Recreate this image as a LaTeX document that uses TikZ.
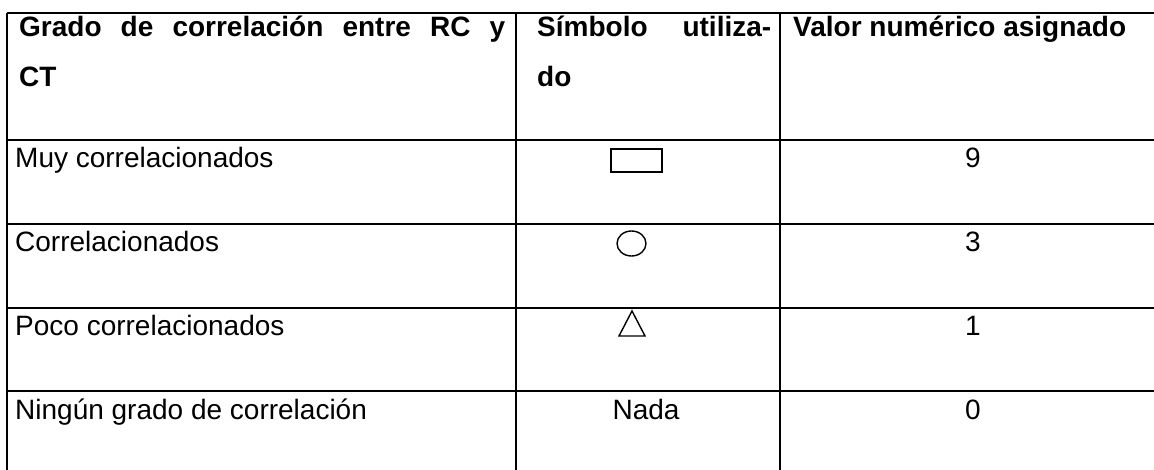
\documentclass[tikz,border=0pt]{standalone}
\usepackage{fontspec}
\setmainfont{Liberation Sans}
\usetikzlibrary{positioning}
\tikzset{
  hdr/.style={anchor=base west, inner sep=0pt, font=\bfseries\fontsize{28}{50}\selectfont},
  cell/.style={anchor=base west, inner sep=0pt, font=\fontsize{28}{33}\selectfont},
  num/.style={anchor=base, inner sep=0pt, font=\fontsize{28}{33}\selectfont},
  hrule/.style={line width=2pt},
  vrule/.style={line width=1.3pt},
  sym/.style={line width=1.4pt}
}
\begin{document}
\begin{tikzpicture}[x=1pt, y=-1pt]
  \useasboundingbox (0,0) rectangle (1154,470);
  % table rules
  \foreach \ry in {13,140,224,308,391}
    \draw[hrule] (7,\ry) -- (1154,\ry);
  \foreach \rx in {7,516,780}
    \draw[vrule] (\rx,13) -- (\rx,470);
  % header
  \node[hdr] (grado) at (19,37) {\makebox[486pt][s]{Grado de correlación entre RC y}};
  \node[hdr] (ct) at (19,87) {CT};
  \node[hdr] (simbolo) at (537,37) {\makebox[234pt][s]{Símbolo utiliza-}};
  \node[hdr] (do) at (537,87) {do};
  \node[hdr] (valor) at (793,37) {Valor numérico asignado};
  % first column
  \node[cell] (muy) at (15,168) {Muy correlacionados};
  \node[cell] (corr) at (15,252) {Correlacionados};
  \node[cell] (poco) at (15,336) {Poco correlacionados};
  \node[cell] (ningun) at (15,419) {Ningún grado de correlación};
  % symbols
  \draw[sym] (611,149) rectangle (662,172);
  \draw[sym] (631.5,243.5) ellipse [x radius=14.5pt, y radius=12.5pt];
  \draw[sym] (632,311) -- (645,336) -- (619,336) -- cycle;
  \node[num] (nada) at (646,419) {Nada};
  % values
  \node[num] (v9) at (973,168) {9};
  \node[num] (v3) at (973,252) {3};
  \node[num] (v1) at (973,336) {1};
  \node[num] (v0) at (973,419) {0};
\end{tikzpicture}
\end{document}
